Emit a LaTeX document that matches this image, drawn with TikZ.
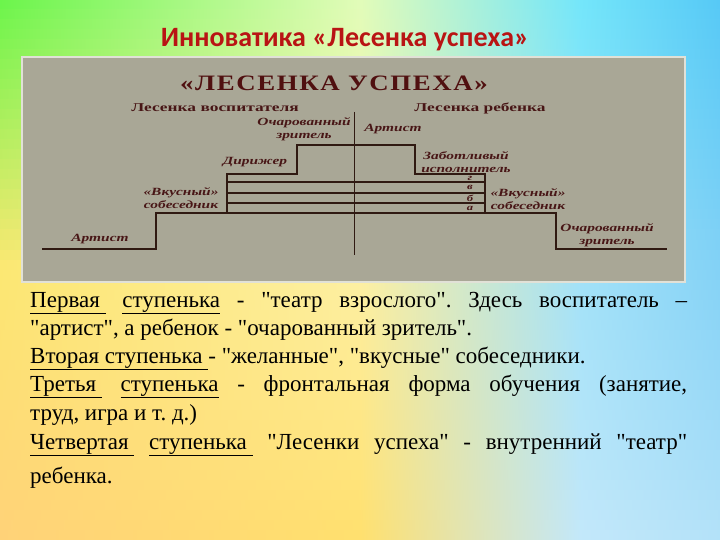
\documentclass[tikz,border=0pt]{standalone}
\usepackage{fontspec}
\usepackage{graphicx}
\setmainfont{Liberation Serif}
\newfontfamily\bodyfont{Liberation Serif}
\newfontfamily\titlefont{Carlito}
\definecolor{tA}{RGB}{55,222,165}\definecolor{tB}{RGB}{105,245,75}\definecolor{tC}{RGB}{225,252,185}\definecolor{tD}{RGB}{115,230,250}\definecolor{tE}{RGB}{10,125,235}
\definecolor{mA}{RGB}{246,205,165}\definecolor{mB}{RGB}{252,232,115}\definecolor{mC}{RGB}{253,240,165}\definecolor{mD}{RGB}{160,225,248}\definecolor{mE}{RGB}{55,170,240}
\definecolor{bA}{RGB}{250,188,140}\definecolor{bB}{RGB}{255,210,120}\definecolor{bC}{RGB}{255,224,110}\definecolor{bD}{RGB}{195,232,250}\definecolor{bE}{RGB}{140,210,245}
\definecolor{titlec}{RGB}{185,20,20}
\definecolor{panelc}{RGB}{169,167,150}
\definecolor{panelborder}{RGB}{225,225,215}
\definecolor{stairc}{RGB}{48,26,18}
\definecolor{lblc}{RGB}{72,22,22}
\definecolor{hdrc}{RGB}{80,16,16}
\colorlet{cA}{tA}\colorlet{cB}{tB}\colorlet{cC}{tC}\colorlet{cD}{tD}\colorlet{cE}{tE}
\pgfdeclarehorizontalshading[cA,cB,cC,cD,cE]{bgrow}{100bp}{color(0bp)=(cA); color(25bp)=(cB); color(50bp)=(cC); color(65.3bp)=(cD); color(100bp)=(cE)}
\tikzset{
  stair/.style={line width=2.2pt, draw=stairc, line join=miter},
  rung/.style={line width=1.1pt, draw=stairc},
  lbl/.style={font=\fontsize{11}{12.5}\selectfont\bfseries\itshape, text=lblc, align=center, inner sep=0pt, xscale=1.4},
  small/.style={font=\fontsize{9}{10}\selectfont\bfseries\itshape},
  hdr/.style={font=\fontsize{12}{13}\selectfont\bfseries, text=lblc, inner sep=0pt, xscale=1.45},
  body/.style={font=\bodyfont\fontsize{23}{25}\selectfont\frenchspacing, anchor=base west, inner sep=0pt, text=black},
}
\begin{document}
\begin{tikzpicture}[x=1pt,y=-1pt]
\useasboundingbox (0,0) rectangle (720,540);
% background
\foreach \r in {0,...,53}{
  \pgfmathtruncatemacro\yc{\r*10+5}
  \ifnum\yc<270
    \pgfmathtruncatemacro\p{100-\yc/2.7}
    \colorlet{cA}{tA!\p!mA}\colorlet{cB}{tB!\p!mB}\colorlet{cC}{tC!\p!mC}\colorlet{cD}{tD!\p!mD}\colorlet{cE}{tE!\p!mE}
  \else
    \pgfmathtruncatemacro\p{100-(\yc-270)/2.7}
    \colorlet{cA}{mA!\p!bA}\colorlet{cB}{mB!\p!bB}\colorlet{cC}{mC!\p!bC}\colorlet{cD}{mD!\p!bD}\colorlet{cE}{mE!\p!bE}
  \fi
  \shade[shading=bgrow] (0,\r*10) rectangle (720,\r*10+10.8);
}
% title
\node[font=\titlefont\fontsize{28}{30}\selectfont\bfseries, text=titlec, inner sep=0pt] (title) at (345,40) {Инноватика «Лесенка успеха»};
% panel
\draw[draw=panelborder, line width=1.5pt, fill=panelc] (22,57) rectangle (685,282);
\node[font=\fontsize{22}{24}\selectfont\bfseries\addfontfeature{LetterSpace=6}, text=hdrc, inner sep=0pt, xscale=1.22] (head) at (334,83) {«ЛЕСЕНКА УСПЕХА»};
\node[hdr] (lv) at (215,108) {Лесенка воспитателя};
\node[hdr] (lr) at (480,108) {Лесенка ребенка};
% center line
\draw[line width=1pt, draw=stairc] (354,112) -- (354,255);
% rungs
\draw[rung] (227,182) -- (485,182);
\draw[rung] (227,193) -- (485,193);
\draw[rung] (227,203) -- (485,203);
\draw[rung] (227,213) -- (485,213);
% stairs
\draw[stair] (42,249) -- (156,249) -- (156,213) -- (227,213) -- (227,174) -- (297,174) -- (297,145) -- (415,145) -- (415,174) -- (485,174) -- (485,213) -- (556,213) -- (556,249) -- (667,249);
% labels left
\node[lbl] (l1) at (100,239) {Артист};
\node[lbl] (l2) at (181,198) {«Вкусный»\\собеседник};
\node[lbl] (l3) at (255,162) {Дирижер};
\node[lbl] (l4) at (304,129) {Очарованный\\зритель};
% labels right
\node[lbl] (r1) at (393,129) {Артист};
\node[lbl] (r2) at (466,162) {Заботливый\\исполнитель};
\node[lbl] (r3) at (528,199) {«Вкусный»\\собеседник};
\node[lbl] (r4) at (607,235) {Очарованный\\зритель};
\node[lbl, small] (lg) at (470,178) {г};
\node[lbl, small] (lvv) at (470,187.5) {в};
\node[lbl, small] (lb) at (470,198) {б};
\node[lbl, small] (la) at (470,208) {а};
% body text
\node[body] (t1) at (30,307) {\makebox[657pt][s]{\underline{Первая\ } \underline{ступенька} - "театр взрослого". Здесь воспитатель –}};
\node[body] (t2) at (30,335) {"артист", а ребенок - "очарованный зритель".};
\node[body] (t3) at (30,363) {\underline{Вторая ступенька\ }- "желанные", "вкусные" собеседники.};
\node[body] (t4) at (30,391) {\makebox[657pt][s]{\underline{Третья\ } \underline{ступенька} - фронтальная форма обучения (занятие,}};
\node[body] (t5) at (30,420) {труд, игра и т. д.)};
\node[body] (t6) at (30,449) {\makebox[657pt][s]{\underline{Четвертая\ } \underline{ступенька\ } "Лесенки успеха" - внутренний "театр"}};
\node[body] (t7) at (30,483) {ребенка.};
\end{tikzpicture}
\end{document}
